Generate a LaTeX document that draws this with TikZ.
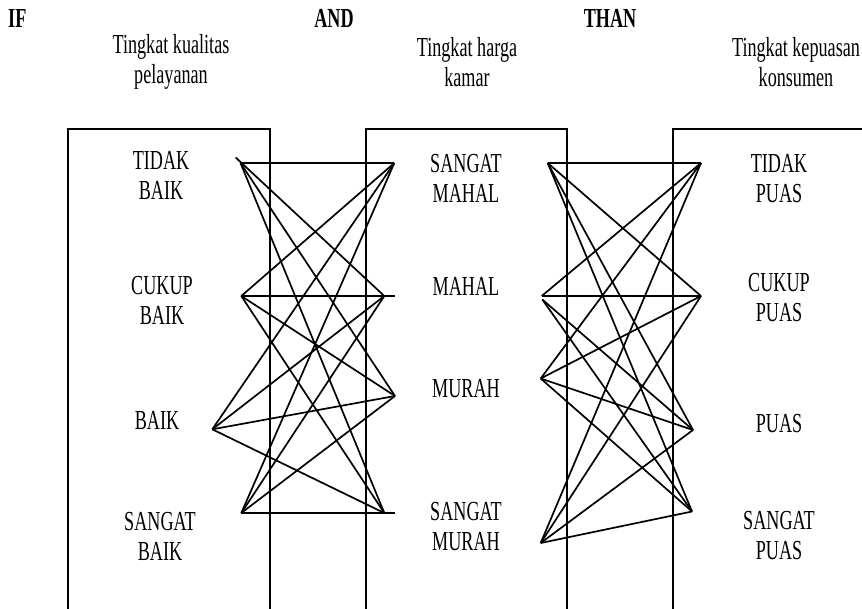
\documentclass[tikz,border=0pt]{standalone}
\usepackage{fontspec}
\setmainfont{Liberation Serif}[FakeStretch=0.66]
\tikzset{
  lbl/.style={align=center, inner sep=0pt, font=\fontsize{27.5}{30}\selectfont},
  head/.style={inner sep=0pt, font=\fontsize{27.5}{30}\selectfont\bfseries},
  frame/.style={line width=1.9pt},
  link/.style={line width=1.7pt}
}
\begin{document}
\begin{tikzpicture}[x=1pt, y=-1pt]
\useasboundingbox (0,0) rectangle (862,608);
\clip (0,0) rectangle (862,608);

% the three open-bottomed columns
\draw[frame] (68,620) -- (68,129) -- (270,129) -- (270,620);
\draw[frame] (366,620) -- (366,129) -- (567,129) -- (567,620);
\draw[frame] (673,620) -- (673,129) -- (880,129);

% junction points on the left (quality) side
\coordinate (L1) at (240.5,163);
\coordinate (L1s) at (235.7,157.5);
\coordinate (L2) at (241.3,296);
\coordinate (L3) at (212.3,429.3);
\coordinate (L4) at (241.3,513);
% junction points on the price column, left face
\coordinate (M1) at (394.3,163);
\coordinate (M2) at (384.3,296);
\coordinate (M2e) at (395,296);
\coordinate (M3) at (395,396);
\coordinate (M4) at (384.3,513);
\coordinate (M4e) at (395,513);
% junction points on the price column, right face
\coordinate (R1) at (547.7,163);
\coordinate (R2) at (541.7,296);
\coordinate (R2b) at (542.3,299.5);
\coordinate (R3) at (540.7,378.5);
\coordinate (R4) at (540.7,543);
% junction points on the satisfaction side
\coordinate (P1) at (701,163);
\coordinate (P2) at (701,296);
\coordinate (P3) at (693,430);
\coordinate (P4) at (692,511.5);

% quality -> price rules
\draw[link] (L1) -- (M1);
\draw[link] (L1s) -- (M2);
\draw[link] (L1) -- (M3);
\draw[link] (L1) -- (M4);
\draw[link] (L2) -- (M1);
\draw[link] (L2) -- (M2e);
\draw[link] (L2) -- (M3);
\draw[link] (L2) -- (M4);
\draw[link] (L3) -- (M1);
\draw[link] (L3) -- (M2);
\draw[link] (L3) -- (M3);
\draw[link] (L3) -- (M4);
\draw[link] (L4) -- (M1);
\draw[link] (L4) -- (M2);
\draw[link] (L4) -- (M3);
\draw[link] (L4) -- (M4e);

% price -> satisfaction rules
\draw[link] (R1) -- (P1);
\draw[link] (R1) -- (P2);
\draw[link] (R1) -- (P3);
\draw[link] (R1) -- (P4);
\draw[link] (R2) -- (P1);
\draw[link] (R2) -- (P2);
\draw[link] (R2b) -- (P3);
\draw[link] (R2b) -- (P4);
\draw[link] (R3) -- (P1);
\draw[link] (R3) -- (P2);
\draw[link] (R3) -- (P3);
\draw[link] (R3) -- (P4);
\draw[link] (R4) -- (P1);
\draw[link] (R4) -- (P2);
\draw[link] (R4) -- (P3);
\draw[link] (R4) -- (P4);

% headings
\node[head, anchor=west] (kif) at (8,18) {IF};
\node[head] (kand) at (334,18) {AND};
\node[head] (kthan) at (610,18) {THAN};
\node[lbl] (h1) at (171,62) {Tingkat kualitas\\pelayanan};
\node[lbl] (h2) at (467,62) {Tingkat harga\\kamar};
\node[lbl] (h3) at (796,62) {Tingkat kepuasan\\konsumen};

% quality levels
\node[lbl] (q1) at (161,175) {TIDAK\\BAIK};
\node[lbl] (q2) at (162,300) {CUKUP\\BAIK};
\node[lbl] (q3) at (157,420) {BAIK};
\node[lbl] (q4) at (160,536) {SANGAT\\BAIK};
% price levels
\node[lbl] (p1) at (466,178) {SANGAT\\MAHAL};
\node[lbl] (p2) at (466,286) {MAHAL};
\node[lbl] (p3) at (466,389) {MURAH};
\node[lbl] (p4) at (466,527) {SANGAT\\MURAH};
% satisfaction levels
\node[lbl] (s1) at (779,178.7) {TIDAK\\PUAS};
\node[lbl] (s2) at (779,298) {CUKUP\\PUAS};
\node[lbl] (s3) at (779,424) {PUAS};
\node[lbl] (s4) at (779,536) {SANGAT\\PUAS};
\end{tikzpicture}
\end{document}
